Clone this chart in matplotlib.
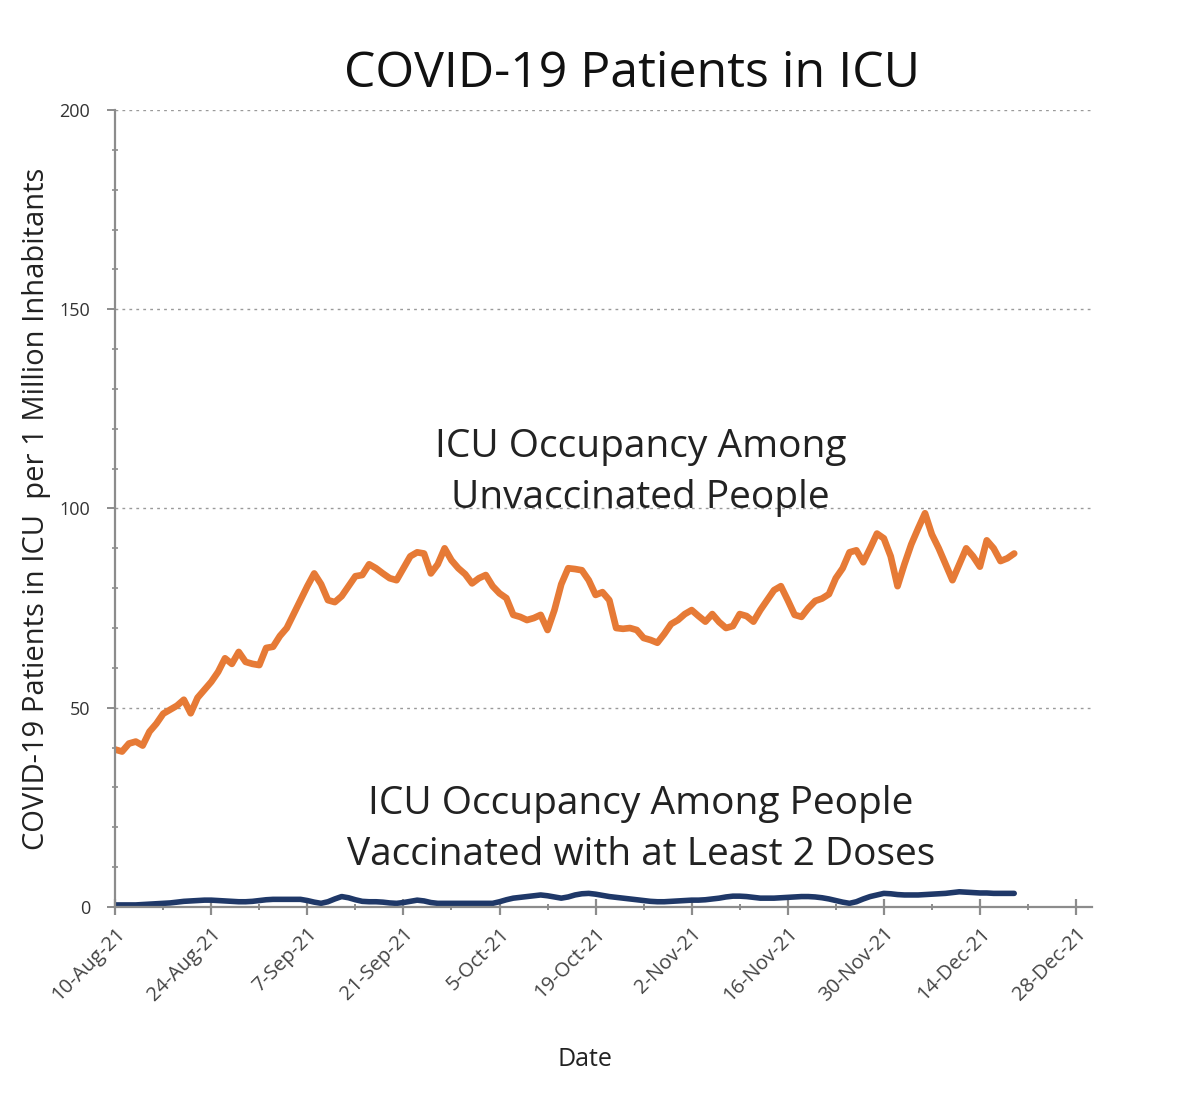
import numpy as np
import pandas as pd
import matplotlib
matplotlib.use('Agg')
import matplotlib.pyplot as plt
import matplotlib.dates as mdates
from matplotlib.ticker import MultipleLocator, FuncFormatter

plt.rcParams['font.family'] = ['Open Sans', 'DejaVu Sans']

# daily values, 10-Aug-21 .. 19-Dec-21
dates = pd.date_range('2021-08-10', '2021-12-19', freq='D')

unvaccinated = [
    39.5, 39.0, 41.0, 41.5, 40.5, 44.0, 46.0, 48.5, 49.5, 50.5,
    52.0, 48.6, 52.5, 54.5, 56.5, 59.0, 62.4, 61.0, 64.0, 61.5,
    61.0, 60.7, 65.0, 65.3, 68.0, 70.0, 73.5, 77.0, 80.5, 83.7,
    81.0, 77.0, 76.5, 78.0, 80.5, 83.0, 83.3, 86.0, 85.0, 83.7,
    82.5, 82.0, 85.0, 88.0, 89.0, 88.7, 83.7, 86.0, 90.0, 87.0,
    85.0, 83.5, 81.2, 82.5, 83.3, 80.5, 78.7, 77.5, 73.3, 72.8,
    72.0, 72.5, 73.3, 69.5, 74.5, 81.0, 85.0, 84.8, 84.5, 82.0,
    78.3, 79.0, 77.0, 70.0, 69.8, 70.0, 69.5, 67.5, 67.0, 66.3,
    68.5, 71.0, 72.0, 73.5, 74.5, 73.0, 71.6, 73.5, 71.5, 70.0,
    70.5, 73.5, 73.0, 71.6, 74.5, 77.0, 79.5, 80.5, 77.0, 73.3,
    72.8, 75.0, 76.8, 77.4, 78.5, 82.5, 85.0, 89.0, 89.5, 86.5,
    90.0, 93.7, 92.5, 88.0, 80.5, 86.0, 91.0, 95.0, 98.8, 93.5,
    90.0, 86.0, 82.0, 86.0, 90.0, 88.0, 85.4, 92.0, 90.0, 86.8,
    87.5, 88.7,
]

vaccinated = [
    0.5, 0.5, 0.5, 0.5, 0.6, 0.7, 0.8, 0.9, 1.0, 1.2,
    1.4, 1.5, 1.6, 1.7, 1.7, 1.6, 1.5, 1.4, 1.3, 1.3,
    1.4, 1.6, 1.8, 1.9, 1.9, 1.9, 1.9, 1.9, 1.6, 1.2,
    0.9, 1.3, 2.0, 2.6, 2.3, 1.8, 1.4, 1.3, 1.3, 1.2,
    1.0, 0.9, 1.1, 1.4, 1.7, 1.5, 1.1, 0.9, 0.9, 0.9,
    0.9, 0.9, 0.9, 0.9, 0.9, 0.9, 1.3, 1.8, 2.2, 2.4,
    2.6, 2.8, 3.0, 2.8, 2.5, 2.2, 2.5, 3.0, 3.3, 3.4,
    3.2, 2.9, 2.6, 2.4, 2.2, 2.0, 1.8, 1.6, 1.4, 1.3,
    1.3, 1.4, 1.5, 1.6, 1.7, 1.7, 1.8, 2.0, 2.2, 2.5,
    2.7, 2.7, 2.6, 2.4, 2.2, 2.2, 2.2, 2.3, 2.4, 2.5,
    2.6, 2.6, 2.5, 2.3, 2.0, 1.6, 1.2, 0.9, 1.3, 2.0,
    2.6, 3.0, 3.4, 3.3, 3.1, 3.0, 3.0, 3.0, 3.1, 3.2,
    3.3, 3.4, 3.6, 3.8, 3.7, 3.6, 3.5, 3.5, 3.4, 3.4,
    3.4, 3.4,
]

x_start = pd.Timestamp('2021-08-10')
x_end = pd.Timestamp('2021-12-30 08:00')

fig = plt.figure(figsize=(12, 11.06), dpi=100)
ax = fig.add_axes([0.096, 0.18, 0.814, 0.7205])

ax.plot(dates, unvaccinated, color='#E67A36', lw=4.8, solid_capstyle='round')
ax.plot(dates, vaccinated, color='#1F3868', lw=4.0, solid_capstyle='round')

ax.set_ylim(0, 200)
ax.set_xlim(x_start, x_end)

ax.yaxis.set_major_locator(MultipleLocator(50))
ax.yaxis.set_minor_locator(MultipleLocator(10))
ax.set_xticks(pd.date_range(x_start, '2021-12-28', freq='14D'))
ax.set_xticks(pd.date_range('2021-08-17', '2021-12-28', freq='14D'), minor=True)
ax.xaxis.set_major_formatter(FuncFormatter(
    lambda v, p: f"{mdates.num2date(v).day}-{mdates.num2date(v).strftime('%b-%y')}"))

ax.grid(axis='y', which='major', linestyle=(0, (2, 3)), color='#9a9a9a', lw=1.0)
for s in ['top', 'right']:
    ax.spines[s].set_visible(False)
for s in ['left', 'bottom']:
    ax.spines[s].set_color('#8c8c8c')
    ax.spines[s].set_linewidth(1.6)

ax.tick_params(axis='y', which='major', direction='out', length=6, width=1.4,
               color='#8c8c8c', labelsize=13, labelcolor='#333333', pad=12)
ax.tick_params(axis='y', which='minor', direction='inout', length=5, width=1.2,
               color='#8c8c8c')
ax.tick_params(axis='x', which='major', direction='inout', length=12, width=1.6,
               color='#8c8c8c', labelsize=14.5, labelcolor='#444444', pad=6)
ax.tick_params(axis='x', which='minor', direction='inout', length=5, width=1.4,
               color='#8c8c8c')
plt.setp(ax.get_xticklabels(), rotation=45, ha='right', rotation_mode='anchor')

ax.set_ylabel('COVID-19 Patients in ICU  per 1 Million Inhabitants', fontsize=21,
              color='#222222')
ax.yaxis.set_label_coords(-0.066, 0.5)
ax.set_xlabel('Date', fontsize=18, color='#222222')
ax.xaxis.set_label_coords(0.481, -0.176)

fig.text(0.527, 0.933, 'COVID-19 Patients in ICU', ha='center', va='center',
         fontsize=36, color='#111111')

ax.text(0.538, 0.545, 'ICU Occupancy Among\nUnvaccinated People',
        transform=ax.transAxes, ha='center', va='center', fontsize=28,
        color='#222222', linespacing=1.45)
ax.text(0.538, 0.097, 'ICU Occupancy Among People\nVaccinated with at Least 2 Doses',
        transform=ax.transAxes, ha='center', va='center', fontsize=28,
        color='#222222', linespacing=1.45)

fig.savefig('out.png', dpi=100, facecolor='white')
